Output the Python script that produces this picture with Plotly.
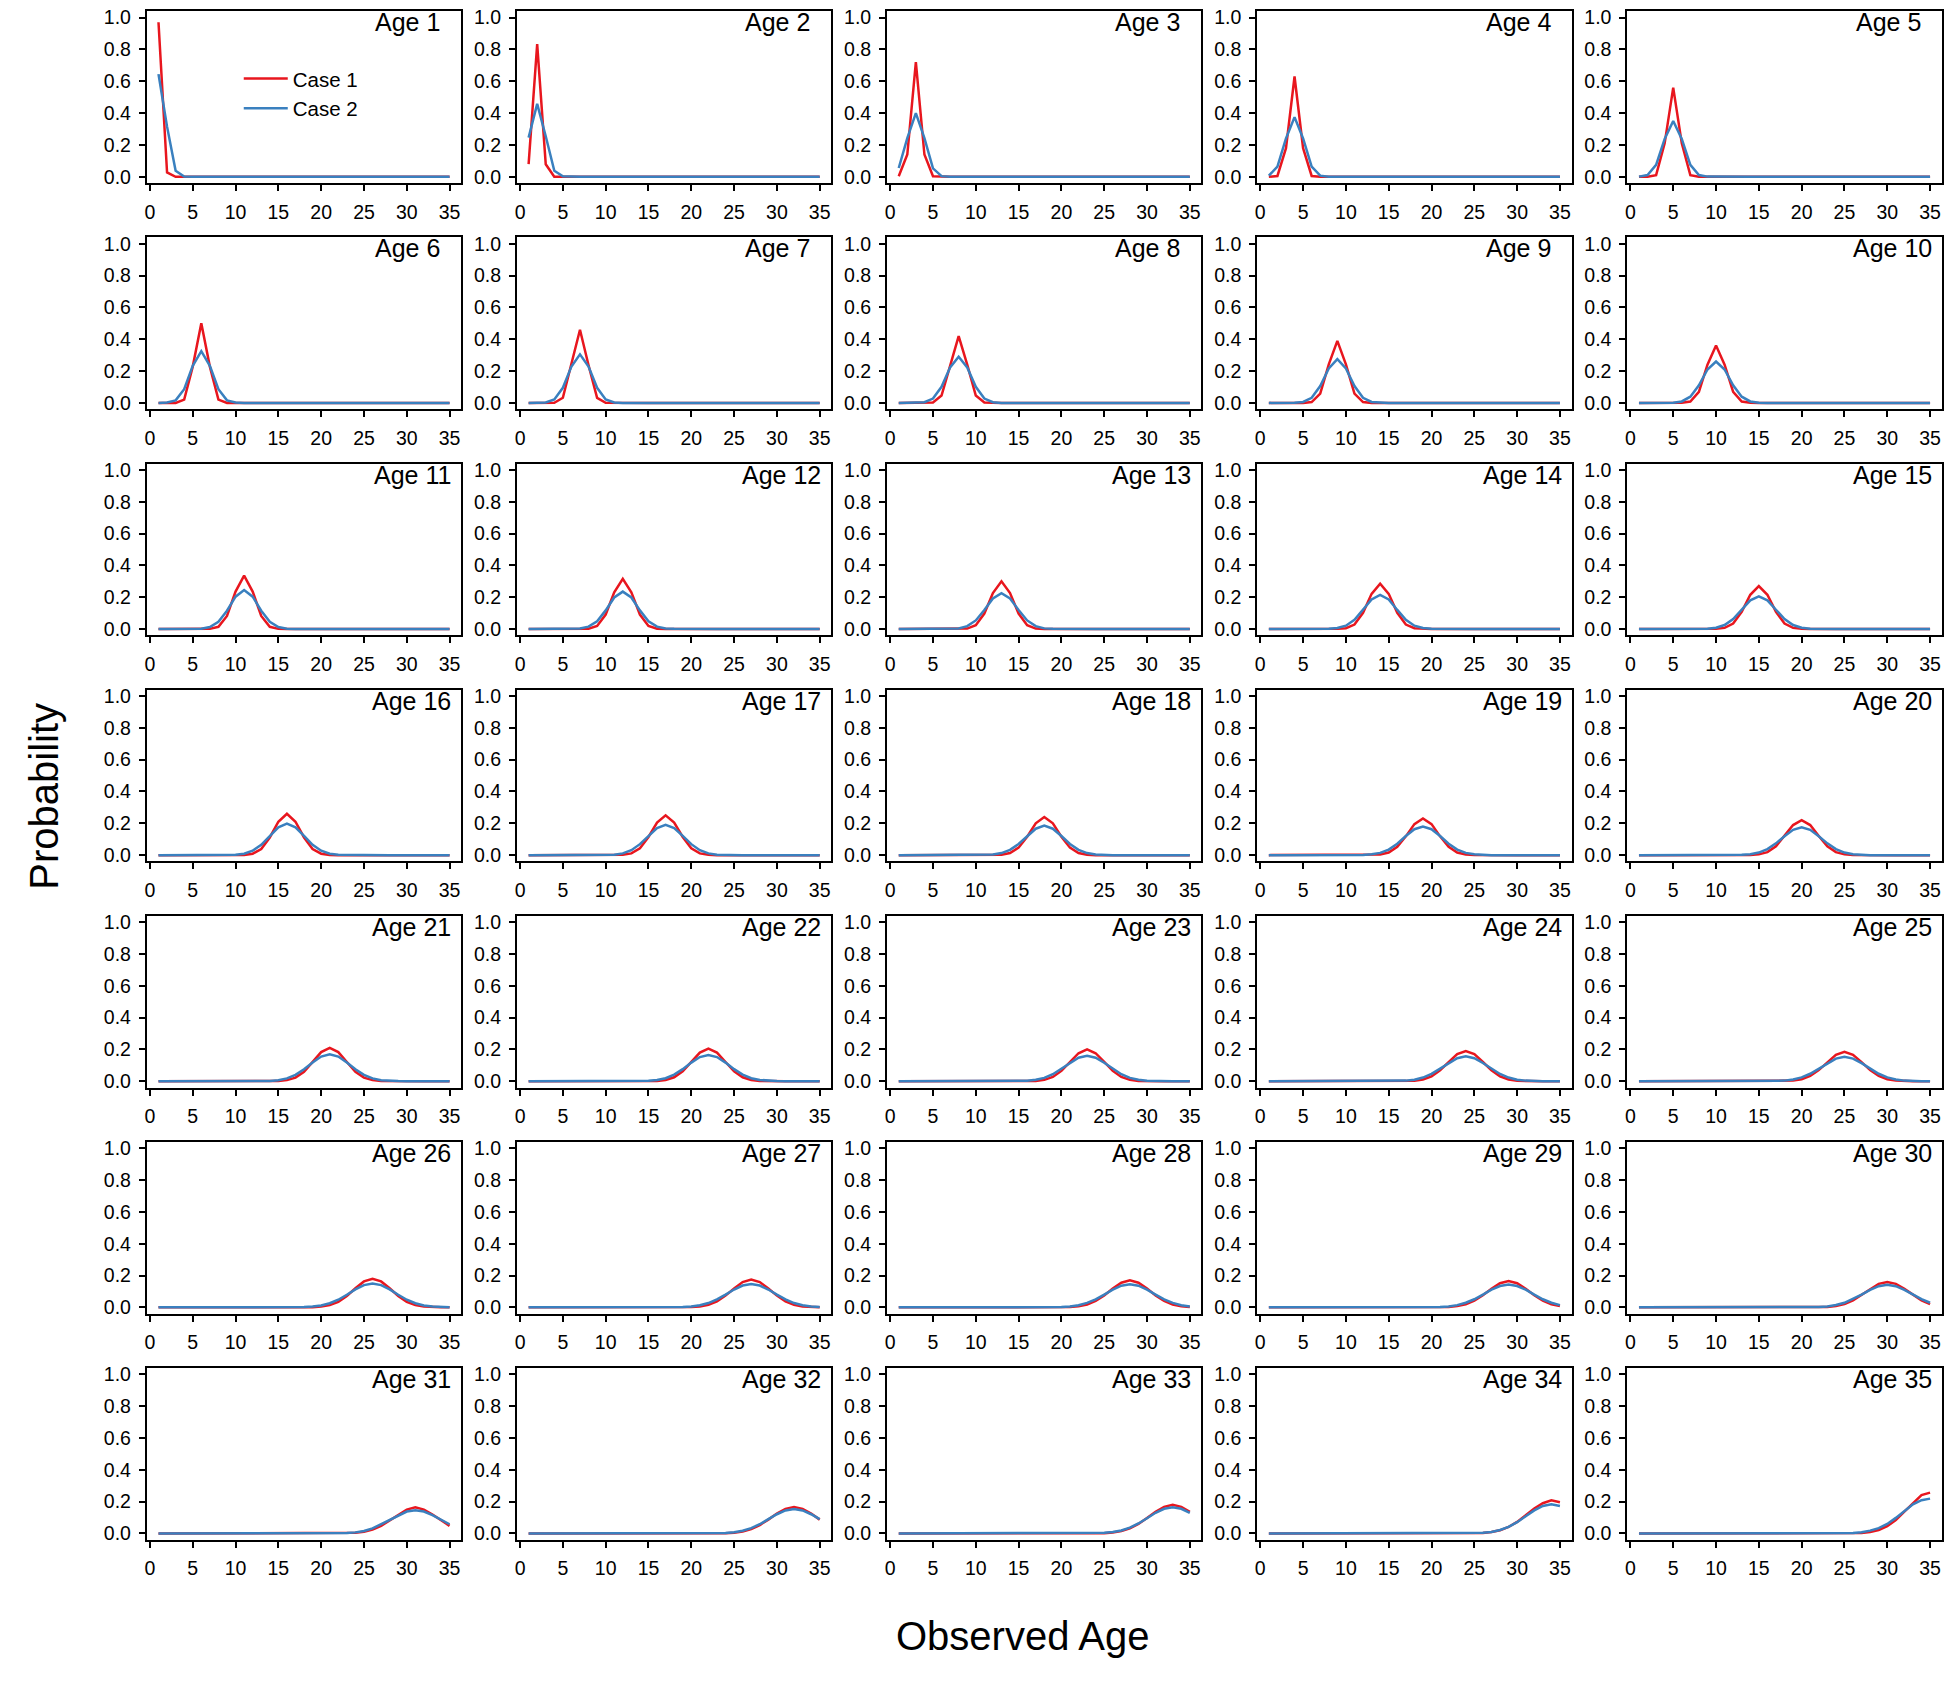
import plotly.graph_objects as go

# ---------------- data ----------------
OBSERVED_AGE = list(range(1, 36))
TRUE_AGE = list(range(1, 36))
X_TICKS = [0, 5, 10, 15, 20, 25, 30, 35]
Y_TICKS = [0.0, 0.2, 0.4, 0.6, 0.8, 1.0]
SERIES_NAMES = ["Case 1", "Case 2"]
PANEL_LABELS = ["Age %d" % a for a in TRUE_AGE]

# For every true age: (first observed age shown, probabilities).
# Observed ages outside the listed window have probability 0.
CASE1_AGES_01_05 = [
    (1, [0.971, 0.027]),
    (1, [0.079, 0.833, 0.079]),
    (1, [0.003, 0.14, 0.72, 0.14, 0.003]),
    (2, [0.005, 0.18, 0.63, 0.18, 0.005]),
    (3, [0.01, 0.21, 0.56, 0.21, 0.01]),
]
CASE1_AGES_06_10 = [
    (4, [0.021, 0.228, 0.50, 0.228, 0.021]),
    (4, [0.001, 0.032, 0.237, 0.46, 0.237, 0.032, 0.001]),
    (5, [0.003, 0.046, 0.241, 0.42, 0.241, 0.046, 0.003]),
    (6, [0.005, 0.058, 0.242, 0.39, 0.242, 0.058, 0.005]),
    (6, [0.001, 0.009, 0.070, 0.240, 0.36, 0.240, 0.070, 0.009, 0.001]),
]
CASE1_AGES_11_15 = [
    (7, [0.001, 0.014, 0.082, 0.235, 0.335, 0.235, 0.082, 0.014, 0.001]),
    (8, [0.002, 0.019, 0.091, 0.231, 0.315, 0.231, 0.091, 0.019, 0.002]),
    (9, [0.003, 0.024, 0.097, 0.226, 0.30, 0.226, 0.097, 0.024, 0.003]),
    (9, [0.001, 0.005, 0.028, 0.102, 0.221, 0.285, 0.221, 0.102, 0.028, 0.005, 0.001]),
    (10, [0.001, 0.007, 0.034, 0.108, 0.215, 0.27, 0.215, 0.108, 0.034, 0.007, 0.001]),
]
CASE1_AGES_16_20 = [
    (11, [0.001, 0.009, 0.038, 0.111, 0.210, 0.26, 0.210, 0.111, 0.038, 0.009, 0.001]),
    (12, [0.002, 0.011, 0.043, 0.114, 0.205, 0.25, 0.205, 0.114, 0.043, 0.011, 0.002]),
    (13, [0.003, 0.013, 0.047, 0.116, 0.200, 0.24, 0.200, 0.116, 0.047, 0.013, 0.003]),
    (13, [0.001, 0.004, 0.016, 0.052, 0.118, 0.195, 0.23, 0.195, 0.118, 0.052, 0.016, 0.004, 0.001]),
    (14, [0.001, 0.005, 0.019, 0.056, 0.120, 0.189, 0.22, 0.189, 0.120, 0.056, 0.019, 0.005, 0.001]),
]
CASE1_AGES_21_25 = [
    (15, [0.001, 0.007, 0.023, 0.060, 0.121, 0.183, 0.21, 0.183, 0.121, 0.060, 0.023, 0.007, 0.001]),
    (16, [0.002, 0.008, 0.025, 0.062, 0.121, 0.180, 0.205, 0.180, 0.121, 0.062, 0.025, 0.008, 0.002]),
    (17, [0.002, 0.009, 0.027, 0.065, 0.121, 0.176, 0.20, 0.176, 0.121, 0.065, 0.027, 0.009, 0.002]),
    (17, [0.001, 0.003, 0.011, 0.031, 0.069, 0.121, 0.170, 0.19, 0.170, 0.121, 0.069, 0.031, 0.011, 0.003, 0.001]),
    (18, [0.001, 0.004, 0.013, 0.033, 0.070, 0.120, 0.166, 0.185, 0.166, 0.120, 0.070, 0.033, 0.013, 0.004, 0.001]),
]
CASE1_AGES_26_30 = [
    (19, [0.001, 0.005, 0.014, 0.035, 0.072, 0.120, 0.163, 0.18, 0.163, 0.120, 0.072, 0.035, 0.014, 0.005, 0.001]),
    (20, [0.002, 0.006, 0.016, 0.038, 0.074, 0.119, 0.159, 0.175, 0.159, 0.119, 0.074, 0.038, 0.016, 0.006, 0.002]),
    (20, [0.001, 0.002, 0.007, 0.018, 0.040, 0.075, 0.118, 0.155, 0.17, 0.155, 0.118, 0.075, 0.040, 0.018, 0.007, 0.002]),
    (21, [0.001, 0.003, 0.008, 0.019, 0.042, 0.076, 0.117, 0.152, 0.165, 0.152, 0.117, 0.076, 0.042, 0.019, 0.008]),
    (22, [0.001, 0.003, 0.009, 0.021, 0.044, 0.078, 0.116, 0.148, 0.16, 0.148, 0.116, 0.078, 0.044, 0.021]),
]
CASE1_AGES_31_35 = [
    (23, [0.001, 0.004, 0.011, 0.024, 0.048, 0.082, 0.119, 0.150, 0.164, 0.150, 0.119, 0.082, 0.048]),
    (24, [0.002, 0.005, 0.012, 0.028, 0.053, 0.087, 0.125, 0.155, 0.167, 0.155, 0.125, 0.087]),
    (24, [0.001, 0.002, 0.006, 0.016, 0.033, 0.060, 0.097, 0.136, 0.167, 0.181, 0.167, 0.136]),
    (25, [0.001, 0.003, 0.009, 0.020, 0.041, 0.073, 0.114, 0.157, 0.190, 0.208, 0.196]),
    (26, [0.001, 0.003, 0.009, 0.022, 0.046, 0.085, 0.138, 0.192, 0.241, 0.257]),
]

CASE2_AGES_01_05 = [
    (1, [0.645, 0.315, 0.038, 0.002]),
    (1, [0.246, 0.458, 0.255, 0.038, 0.003]),
    (1, [0.055, 0.243, 0.40, 0.243, 0.053, 0.004]),
    (1, [0.007, 0.064, 0.241, 0.375, 0.241, 0.064, 0.007]),
    (1, [0.001, 0.011, 0.075, 0.238, 0.35, 0.238, 0.075, 0.011, 0.001]),
]
CASE2_AGES_06_10 = [
    (2, [0.002, 0.016, 0.086, 0.233, 0.325, 0.233, 0.086, 0.016, 0.002]),
    (3, [0.003, 0.022, 0.095, 0.228, 0.305, 0.228, 0.095, 0.022, 0.003]),
    (4, [0.004, 0.027, 0.101, 0.223, 0.29, 0.223, 0.101, 0.027, 0.004]),
    (4, [0.001, 0.006, 0.032, 0.106, 0.217, 0.275, 0.217, 0.106, 0.032, 0.006, 0.001]),
    (5, [0.001, 0.009, 0.039, 0.111, 0.210, 0.26, 0.210, 0.111, 0.039, 0.009, 0.001]),
]
CASE2_AGES_11_15 = [
    (6, [0.002, 0.012, 0.045, 0.115, 0.203, 0.245, 0.203, 0.115, 0.045, 0.012, 0.002]),
    (6, [0.001, 0.003, 0.015, 0.049, 0.117, 0.198, 0.235, 0.198, 0.117, 0.049, 0.015, 0.003, 0.001]),
    (7, [0.001, 0.004, 0.018, 0.054, 0.119, 0.192, 0.225, 0.192, 0.119, 0.054, 0.018, 0.004, 0.001]),
    (8, [0.001, 0.006, 0.021, 0.058, 0.120, 0.186, 0.215, 0.186, 0.120, 0.058, 0.021, 0.006, 0.001]),
    (9, [0.002, 0.008, 0.025, 0.063, 0.121, 0.180, 0.205, 0.180, 0.121, 0.063, 0.025, 0.008, 0.002]),
]
CASE2_AGES_16_20 = [
    (9, [0.001, 0.002, 0.009, 0.028, 0.065, 0.121, 0.175, 0.198, 0.175, 0.121, 0.065, 0.028, 0.009, 0.002, 0.001]),
    (10, [0.001, 0.003, 0.011, 0.031, 0.069, 0.121, 0.170, 0.19, 0.170, 0.121, 0.069, 0.031, 0.011, 0.003, 0.001]),
    (11, [0.001, 0.004, 0.013, 0.033, 0.070, 0.120, 0.166, 0.185, 0.166, 0.120, 0.070, 0.033, 0.013, 0.004, 0.001]),
    (12, [0.001, 0.005, 0.014, 0.035, 0.072, 0.120, 0.163, 0.18, 0.163, 0.120, 0.072, 0.035, 0.014, 0.005, 0.001]),
    (13, [0.002, 0.006, 0.016, 0.038, 0.074, 0.119, 0.159, 0.175, 0.159, 0.119, 0.074, 0.038, 0.016, 0.006, 0.002]),
]
CASE2_AGES_21_25 = [
    (13, [0.001, 0.002, 0.007, 0.018, 0.040, 0.075, 0.118, 0.155, 0.17, 0.155, 0.118, 0.075, 0.040, 0.018, 0.007, 0.002, 0.001]),
    (14, [0.001, 0.003, 0.008, 0.019, 0.042, 0.076, 0.117, 0.152, 0.165, 0.152, 0.117, 0.076, 0.042, 0.019, 0.008, 0.003, 0.001]),
    (15, [0.001, 0.003, 0.009, 0.021, 0.044, 0.078, 0.116, 0.148, 0.16, 0.148, 0.116, 0.078, 0.044, 0.021, 0.009, 0.003, 0.001]),
    (16, [0.001, 0.004, 0.010, 0.023, 0.046, 0.078, 0.115, 0.145, 0.157, 0.145, 0.115, 0.078, 0.046, 0.023, 0.010, 0.004, 0.001]),
    (17, [0.001, 0.004, 0.011, 0.024, 0.047, 0.079, 0.114, 0.142, 0.153, 0.142, 0.114, 0.079, 0.047, 0.024, 0.011, 0.004, 0.001]),
]
CASE2_AGES_26_30 = [
    (17, [0.001, 0.002, 0.005, 0.012, 0.026, 0.048, 0.079, 0.113, 0.140, 0.15, 0.140, 0.113, 0.079, 0.048, 0.026, 0.012, 0.005, 0.002, 0.001]),
    (18, [0.001, 0.002, 0.005, 0.013, 0.027, 0.050, 0.080, 0.112, 0.137, 0.147, 0.137, 0.112, 0.080, 0.050, 0.027, 0.013, 0.005, 0.002]),
    (19, [0.001, 0.002, 0.006, 0.013, 0.028, 0.050, 0.080, 0.111, 0.136, 0.145, 0.136, 0.111, 0.080, 0.050, 0.028, 0.013, 0.006]),
    (20, [0.001, 0.002, 0.006, 0.014, 0.029, 0.051, 0.080, 0.111, 0.134, 0.143, 0.134, 0.111, 0.080, 0.051, 0.029, 0.014]),
    (21, [0.001, 0.003, 0.006, 0.015, 0.029, 0.052, 0.080, 0.110, 0.133, 0.142, 0.133, 0.110, 0.080, 0.052, 0.029]),
]
CASE2_AGES_31_35 = [
    (22, [0.001, 0.003, 0.007, 0.016, 0.032, 0.058, 0.086, 0.115, 0.138, 0.146, 0.138, 0.115, 0.086, 0.058]),
    (23, [0.001, 0.003, 0.008, 0.017, 0.034, 0.058, 0.090, 0.121, 0.145, 0.154, 0.145, 0.121, 0.090]),
    (24, [0.001, 0.004, 0.009, 0.019, 0.037, 0.063, 0.096, 0.130, 0.155, 0.164, 0.155, 0.130]),
    (24, [0.001, 0.002, 0.004, 0.010, 0.022, 0.042, 0.071, 0.108, 0.145, 0.173, 0.183, 0.173]),
    (25, [0.001, 0.003, 0.008, 0.018, 0.034, 0.060, 0.098, 0.140, 0.183, 0.209, 0.219]),
]

CASE1 = (CASE1_AGES_01_05 + CASE1_AGES_06_10 + CASE1_AGES_11_15 + CASE1_AGES_16_20
         + CASE1_AGES_21_25 + CASE1_AGES_26_30 + CASE1_AGES_31_35)
CASE2 = (CASE2_AGES_01_05 + CASE2_AGES_06_10 + CASE2_AGES_11_15 + CASE2_AGES_16_20
         + CASE2_AGES_21_25 + CASE2_AGES_26_30 + CASE2_AGES_31_35)


def full_row(entry):
    start, vals = entry
    row = [0.0] * len(OBSERVED_AGE)
    for i, v in enumerate(vals):
        row[start - 1 + i] = v
    return row


# ---------------- styling / layout ----------------
W, H = 1950, 1688
FONT = "Liberation Sans, Arial, Helvetica, sans-serif"
COLORS = ["#E8161E", "#3A80BF"]
NROWS, NCOLS = 7, 5
COL0, COL_PITCH, PANEL_W = 145.0, 370.5, 314.7
ROW0, ROW_PITCH, PANEL_H = 6.3, 227.33, 172.8

fig = go.Figure()
layout = {}
annotations = []

for k, age in enumerate(TRUE_AGE):
    r, c = divmod(k, NCOLS)
    n = k + 1
    sx = "" if n == 1 else str(n)
    left = COL0 + COL_PITCH * c
    top = ROW0 + ROW_PITCH * r
    xd = [left / W, (left + PANEL_W) / W]
    yd = [1 - (top + PANEL_H) / H, 1 - top / H]
    for s, (name, data) in enumerate(zip(SERIES_NAMES, [CASE1, CASE2])):
        fig.add_trace(go.Scatter(
            x=OBSERVED_AGE, y=full_row(data[k]), mode="lines", name=name,
            line=dict(color=COLORS[s], width=2.5),
            showlegend=(k == 0), xaxis="x" + sx, yaxis="y" + sx,
            hovertemplate=name + ": %{y}<extra>" + PANEL_LABELS[k] + "</extra>"))
    common = dict(showline=True, linewidth=2, linecolor="black", mirror=True,
                  ticks="outside", ticklen=6, tickwidth=1.5, tickcolor="black",
                  showgrid=False, zeroline=False,
                  tickfont=dict(family=FONT, size=19.5, color="black"))
    layout["xaxis" + sx] = dict(domain=xd, anchor="y" + sx, range=[-0.36, 36.36],
                                tickvals=X_TICKS, ticklabelstandoff=4, **common)
    layout["yaxis" + sx] = dict(domain=yd, anchor="x" + sx, range=[-0.04, 1.04],
                                tickvals=Y_TICKS, tickformat=".1f",
                                ticklabelstandoff=4, **common)
    one_digit = age < 10
    annotations.append(dict(
        text=PANEL_LABELS[k], xref="x%s domain" % sx, yref="y%s domain" % sx,
        x=1, y=1, xshift=(-19 if one_digit else -8), yshift=-11,
        xanchor="right", yanchor="middle",
        showarrow=False, font=dict(family=FONT, size=25, color="black")))

annotations.append(dict(text="Observed Age", xref="paper", yref="paper",
                        x=1022.5 / W, y=1 - 1640 / H, xanchor="center", yanchor="middle",
                        showarrow=False, font=dict(family=FONT, size=40, color="black")))
annotations.append(dict(text="Probability", xref="paper", yref="paper",
                        x=42 / W, y=1 - 795 / H, xanchor="center", yanchor="middle",
                        textangle=-90, showarrow=False,
                        font=dict(family=FONT, size=40, color="black")))

fig.update_layout(
    width=W, height=H, margin=dict(l=0, r=0, t=0, b=0),
    paper_bgcolor="white", plot_bgcolor="white",
    font=dict(family=FONT, color="black"),
    annotations=annotations,
    legend=dict(x=237 / W, y=1 - 54 / H, xanchor="left", yanchor="top",
                bgcolor="rgba(0,0,0,0)", font=dict(family=FONT, size=20.5, color="black"),
                itemwidth=44, tracegroupgap=0),
    **layout,
)

fig.write_html("out.html")
